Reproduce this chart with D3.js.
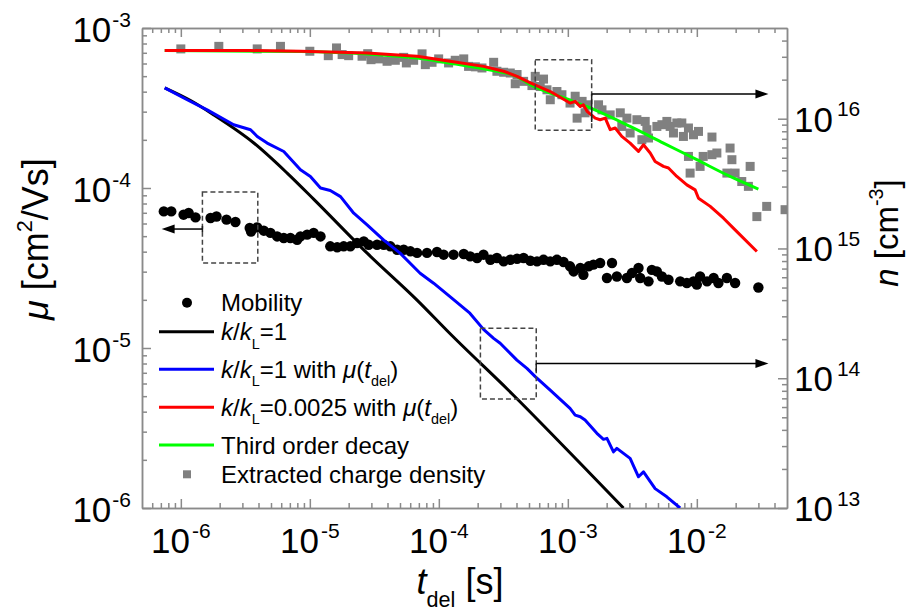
<!DOCTYPE html>
<html>
<head>
<meta charset="utf-8">
<script src="https://cdn.jsdelivr.net/npm/d3@7"></script>
<style>
  body { margin: 0; background: #fff; }
  svg { font-family: 'Liberation Sans', Arial, sans-serif; }
</style>
</head>
<body>
<svg class="chart" width="910" height="612"></svg>
<script>
// mobility (left axis)
const mobT = [7.38e-7, 8.43e-7, 1.05e-6, 1.15e-6, 1.30e-6, 1.70e-6, 1.89e-6, 2.26e-6, 2.65e-6, 3.42e-6,
  3.50e-6, 3.91e-6, 4.40e-6, 4.95e-6, 5.58e-6, 6.28e-6, 7.07e-6, 7.97e-6, 8.46e-6, 9.53e-6,
  1.07e-5, 1.21e-5, 1.44e-5, 1.63e-5, 1.83e-5, 2.06e-5, 2.32e-5, 2.62e-5, 2.86e-5, 3.32e-5,
  3.74e-5, 4.21e-5, 4.75e-5, 5.34e-5, 6.02e-5, 6.78e-5, 8.10e-5, 9.68e-5, 1.09e-4, 1.30e-4,
  1.56e-4, 1.75e-4, 1.98e-4, 2.22e-4, 2.51e-4, 2.82e-4, 3.18e-4, 3.58e-4, 4.04e-4, 4.54e-4,
  5.12e-4, 5.77e-4, 6.48e-4, 7.31e-4, 8.23e-4, 9.27e-4, 1.04e-3, 1.11e-3, 1.25e-3, 1.32e-3,
  1.45e-3, 1.58e-3, 1.78e-3, 2.01e-3, 2.20e-3, 2.40e-3, 2.87e-3, 3.14e-3, 3.53e-3, 3.64e-3,
  4.22e-3, 4.48e-3, 4.90e-3, 5.36e-3, 6.03e-3, 7.43e-3, 8.37e-3, 9.42e-3, 1.00e-2, 1.06e-2,
  1.20e-2, 1.35e-2, 1.47e-2, 1.71e-2, 1.98e-2, 3.00e-2]
const mobMu = [7.14e-5, 7.14e-5, 6.81e-5, 6.98e-5, 6.55e-5, 6.49e-5, 6.64e-5, 6.34e-5, 6.13e-5, 5.62e-5,
  5.35e-5, 5.67e-5, 5.41e-5, 5.24e-5, 4.98e-5, 4.87e-5, 4.87e-5, 4.75e-5, 4.98e-5, 5.11e-5,
  5.24e-5, 4.98e-5, 4.32e-5, 4.26e-5, 4.32e-5, 4.32e-5, 4.53e-5, 4.64e-5, 4.42e-5, 4.42e-5,
  4.42e-5, 4.32e-5, 4.11e-5, 4.11e-5, 4.02e-5, 3.93e-5, 3.93e-5, 3.98e-5, 3.83e-5, 3.83e-5,
  3.87e-5, 3.74e-5, 3.65e-5, 3.83e-5, 3.56e-5, 3.65e-5, 3.48e-5, 3.56e-5, 3.61e-5, 3.65e-5,
  3.51e-5, 3.48e-5, 3.56e-5, 3.48e-5, 3.56e-5, 3.45e-5, 3.24e-5, 3.01e-5, 3.16e-5, 2.87e-5,
  3.24e-5, 3.32e-5, 3.40e-5, 2.74e-5, 3.40e-5, 2.80e-5, 2.74e-5, 2.94e-5, 3.16e-5, 2.74e-5,
  2.61e-5, 3.08e-5, 3.01e-5, 2.80e-5, 2.67e-5, 2.61e-5, 2.55e-5, 2.61e-5, 2.49e-5, 2.80e-5,
  2.61e-5, 2.74e-5, 2.55e-5, 2.74e-5, 2.55e-5, 2.39e-5]

// extracted charge density (right axis)
const densT = [1.0e-6, 1.97e-6, 3.91e-6, 5.92e-6, 1.0e-5, 1.39e-5, 1.61e-5, 1.78e-5, 2.00e-5, 2.54e-5,
  2.81e-5, 2.98e-5, 3.42e-5, 3.97e-5, 4.60e-5, 5.34e-5, 5.60e-5, 6.38e-5, 7.41e-5, 7.86e-5,
  8.86e-5, 9.97e-5, 1.19e-4, 1.34e-4, 1.56e-4, 1.70e-4, 1.92e-4, 2.16e-4, 2.66e-4, 2.82e-4,
  3.18e-4, 3.58e-4, 3.91e-4, 4.04e-4, 4.54e-4, 5.27e-4, 5.59e-4, 6.11e-4, 6.48e-4, 6.89e-4,
  7.31e-4, 8.23e-4, 9.00e-4, 1.04e-3, 1.14e-3, 1.18e-3, 1.29e-3, 1.36e-3, 1.41e-3, 1.73e-3,
  1.84e-3, 2.13e-3, 2.55e-3, 2.62e-3, 2.87e-3, 3.04e-3, 3.43e-3, 3.75e-3, 3.98e-3, 4.10e-3,
  4.22e-3, 4.90e-3, 5.36e-3, 5.86e-3, 6.21e-3, 6.59e-3, 7.00e-3, 7.65e-3, 7.87e-3, 8.61e-3,
  9.42e-3, 1.03e-2, 8.61e-3, 8.87e-3, 1.06e-2, 1.12e-2, 1.31e-2, 1.31e-2, 1.43e-2, 1.71e-2,
  1.81e-2, 1.87e-2, 1.98e-2, 2.23e-2, 2.51e-2, 2.59e-2, 2.92e-2, 3.48e-2, 4.83e-2]
const densN = [3.45e16, 3.61e16, 3.45e16, 3.61e16, 3.31e16, 3.06e16, 3.51e16, 3.12e16, 3.06e16, 3.03e16,
  3.17e16, 2.85e16, 2.89e16, 2.77e16, 2.82e16, 2.97e16, 2.69e16, 2.82e16, 3.16e16, 2.61e16,
  2.72e16, 2.89e16, 2.69e16, 2.82e16, 2.89e16, 2.53e16, 2.51e16, 2.46e16, 2.72e16, 2.32e16,
  2.28e16, 2.25e16, 1.86e16, 2.19e16, 1.94e16, 1.80e16, 2.12e16, 1.77e16, 2.02e16, 1.67e16,
  1.40e16, 1.62e16, 1.53e16, 1.32e16, 1.49e16, 1.01e16, 1.36e16, 1.11e16, 1.28e16, 1.28e16,
  1.17e16, 1.07e16, 1.11e16, 8.72e15, 1.01e16, 7.76e15, 9.82e15, 6.89e15, 9.53e15, 8.23e15,
  7.10e15, 8.72e15, 8.99e15, 9.53e15, 8.72e15, 7.76e15, 9.27e15, 9.27e15, 7.30e15, 8.48e15,
  7.52e15, 7.98e15, 5.12e15, 3.81e15, 4.29e15, 5.12e15, 5.28e15, 7.22e15, 5.44e15, 3.81e15,
  5.94e15, 4.83e15, 3.81e15, 3.28e15, 3.01e15, 4.29e15, 1.76e15, 2.11e15, 1.99e15]

// k/kL = 1
const k1T = [7.5e-7, 1.19e-6, 1.80e-6, 3.68e-6, 6.67e-6, 1.07e-5, 2.78e-5, 6.78e-5, 1.23e-4, 3.79e-4, 1.33e-3, 2.70e-3]
const k1N = [1.73e16, 1.38e16, 1.07e16, 6.5e15, 3.81e15, 2.40e15, 9.2e14, 4.0e14, 2.19e14, 7.4e13, 2.07e13, 1.0e13]

// k/kL = 1 with mu(t_del)
const k1MuT = [7.5e-7, 1.12e-6, 1.60e-6, 2.57e-6, 3.47e-6, 3.91e-6, 4.67e-6, 6.28e-6, 8.46e-6, 1.01e-5,
  1.21e-5, 1.44e-5, 1.73e-5, 2.19e-5, 2.78e-5, 3.74e-5, 5.01e-5, 7.16e-5, 9.11e-5, 1.22e-4,
  1.74e-4, 2.22e-4, 2.66e-4, 2.99e-4, 4.03e-4, 4.82e-4, 5.59e-4, 7.30e-4, 1.04e-3, 1.14e-3,
  1.25e-3, 1.36e-3, 1.68e-3, 1.89e-3, 2.01e-3, 2.26e-3, 2.40e-3, 3.04e-3, 3.53e-3, 3.86e-3,
  4.75e-3, 5.85e-3, 7.42e-3]
const k1MuN = [1.73e16, 1.40e16, 1.17e16, 8.99e15, 8.22e15, 7.30e15, 6.49e15, 5.59e15, 4.04e15, 3.59e15,
  2.92e15, 2.80e15, 2.51e15, 1.87e15, 1.52e15, 1.16e15, 9.2e14, 6.44e14, 5.40e14, 4.26e14,
  3.17e14, 2.38e14, 2.03e14, 1.86e14, 1.38e14, 1.19e14, 1.03e14, 8.11e13, 5.86e13, 5.20e13,
  5.05e13, 4.76e13, 3.76e13, 3.38e13, 3.44e13, 2.71e13, 2.88e13, 2.41e13, 1.74e13, 1.90e13,
  1.41e13, 1.22e13, 1.0e13]

// k/kL = 0.0025 with mu(t_del)
const k0025T = [7.5e-7, 3.47e-6, 8.46e-6, 2.78e-5, 6.78e-5, 1.22e-4, 2.22e-4, 3.18e-4, 4.04e-4, 5.12e-4,
  7.31e-4, 1.04e-3, 1.14e-3, 1.25e-3, 1.32e-3, 1.41e-3, 1.63e-3, 1.78e-3, 1.95e-3, 2.13e-3,
  2.33e-3, 2.62e-3, 3.04e-3, 3.53e-3, 3.86e-3, 4.35e-3, 4.75e-3, 5.51e-3, 6.03e-3, 7.00e-3,
  8.37e-3, 9.70e-3, 1.03e-2, 1.27e-2, 1.61e-2, 1.98e-2, 2.92e-2]
const k0025N = [3.35e16, 3.35e16, 3.31e16, 3.21e16, 3.03e16, 2.77e16, 2.53e16, 2.32e16, 2.12e16, 1.89e16,
  1.62e16, 1.32e16, 1.36e16, 1.24e16, 1.28e16, 1.14e16, 1.01e16, 9.82e15, 1.01e16, 8.23e15,
  8.48e15, 7.30e15, 6.49e15, 5.60e15, 6.30e15, 5.44e15, 4.68e15, 4.29e15, 4.17e15, 3.59e15,
  3.09e15, 2.83e15, 2.44e15, 2.11e15, 1.71e15, 1.39e15, 9.47e14]

// third order decay
const thirdT = [7.5e-7, 8.46e-6, 2.78e-5, 6.78e-5, 1.22e-4, 2.22e-4, 4.04e-4, 5.12e-4, 9.26e-4, 1.49e-3,
  3.04e-3, 5.51e-3, 1.0e-2, 1.81e-2, 3.0e-2]
const thirdN = [3.35e16, 3.29e16, 3.15e16, 2.93e16, 2.68e16, 2.42e16, 2.11e16, 1.83e16, 1.45e16, 1.21e16,
  8.72e15, 6.49e15, 4.83e15, 3.59e15, 2.87e15]

// tick labels
const xTicks = [1e-6, 1e-5, 1e-4, 1e-3, 1e-2]
const xTickExp = ['-6', '-5', '-4', '-3', '-2']
const yLeftTicks = [1e-6, 1e-5, 1e-4, 1e-3]
const yLeftTickExp = ['-6', '-5', '-4', '-3']
const yRightTicks = [1e13, 1e14, 1e15, 1e16]
const yRightTickExp = ['13', '14', '15', '16']

const svg = d3.select('.chart'),
  margin = { top: 28, right: 123, bottom: 104, left: 142 },
  width = 910 - margin.left - margin.right,
  height = 612 - margin.top - margin.bottom

const x = d3.scaleLog().domain([5e-7, 0.05]).range([0, width]),
  yL = d3.scaleLog().domain([1e-6, 1e-3]).range([height, 0]),
  yR = d3.scaleLog().domain([1e13, 5e16]).range([height, 0])

const minorTicks = (lo, hi) => {
  const out = []
  for (let e = Math.floor(Math.log10(lo)); e <= Math.ceil(Math.log10(hi)); e++) {
    for (let m = 2; m <= 9; m++) {
      const v = m * Math.pow(10, e)
      if (v > lo * 1.0001 && v < hi * 0.9999) out.push(v)
    }
  }
  return out
}

// text with italic / sub / sup parts
const rich = (sel, parts, size) => {
  let shift = 0
  parts.forEach(p => {
    const target = p.sup ? -0.44 * size : p.sub ? 0.35 * size : 0
    sel.append('tspan')
      .attr('dy', target - shift)
      .attr('dx', p.dx || 0)
      .style('font-size', (p.sup || p.sub ? 0.6 * size : size) + 'px')
      .style('font-style', p.it ? 'italic' : 'normal')
      .text(p.t)
    shift = target
  })
}

const g = svg.append('g')
  .attr('transform', 'translate(' + margin.left + ',' + margin.top + ')')

g.append('clipPath').attr('id', 'plot-clip')
  .append('rect').attr('width', width).attr('height', height)

// axes (inward ticks, gray frame)
const axisColor = '#8a8a8a'
const addAxis = (axis, tx, ty, major, minor) => {
  const a = g.append('g').attr('transform', 'translate(' + tx + ',' + ty + ')')
  a.call(axis.tickValues(major).tickSize(-9).tickSizeOuter(0).tickFormat(''))
  a.append('g').call(axis.tickValues(minor).tickSize(-5).tickSizeOuter(0).tickFormat(''))
  a.selectAll('path, line').attr('stroke', axisColor).attr('stroke-width', 1.5)
}
addAxis(d3.axisBottom(x), 0, height, xTicks, minorTicks(5e-7, 0.05))
addAxis(d3.axisTop(x), 0, 0, xTicks, minorTicks(5e-7, 0.05))
addAxis(d3.axisLeft(yL), 0, 0, yLeftTicks, minorTicks(1e-6, 1e-3))
addAxis(d3.axisRight(yR), width, 0, yRightTicks, minorTicks(1e13, 5e16))

// tick labels
xTicks.forEach((v, i) => {
  g.append('text').attr('x', x(v)).attr('y', height + 45).attr('text-anchor', 'middle')
    .call(rich, [{ t: '10' }, { t: xTickExp[i], sup: true, dx: 2 }], 35)
})
yLeftTicks.forEach((v, i) => {
  g.append('text').attr('x', -11).attr('y', yL(v) + 14).attr('text-anchor', 'end')
    .call(rich, [{ t: '10' }, { t: yLeftTickExp[i], sup: true, dx: 1 }], 35)
})
yRightTicks.forEach((v, i) => {
  g.append('text').attr('x', width + 7).attr('y', yR(v) + 13)
    .call(rich, [{ t: '10' }, { t: yRightTickExp[i], sup: true, dx: 4 }], 35)
})

// axis titles
svg.append('text').attr('transform', 'translate(48,239) rotate(-90)').attr('text-anchor', 'middle')
  .call(rich, [{ t: '\u03bc', it: true }, { t: ' [cm' }, { t: '2', sup: true }, { t: '/Vs]' }], 36)
svg.append('text').attr('transform', 'translate(898,233) rotate(-90)').attr('text-anchor', 'middle')
  .call(rich, [{ t: 'n', it: true }, { t: ' [cm' }, { t: '-3', sup: true }, { t: ']' }], 33)
svg.append('text').attr('x', 460).attr('y', 594).attr('text-anchor', 'middle')
  .call(rich, [{ t: 't', it: true }, { t: 'del', sub: true }, { t: ' [s]' }], 36)

// data
const plot = g.append('g').attr('clip-path', 'url(#plot-clip)')
const zip = (a, b) => a.map((d, i) => [d, b[i]])

plot.selectAll('.mob').data(zip(mobT, mobMu)).enter().append('circle')
  .attr('class', 'mob')
  .attr('cx', d => x(d[0])).attr('cy', d => yL(d[1])).attr('r', 5.2)
  .attr('fill', '#000')

plot.selectAll('.dens').data(zip(densT, densN)).enter().append('rect')
  .attr('class', 'dens')
  .attr('x', d => x(d[0]) - 4.5).attr('y', d => yR(d[1]) - 4.5)
  .attr('width', 9).attr('height', 9)
  .attr('fill', '#808080')

const lineR = curve => d3.line().x(d => x(d[0])).y(d => yR(d[1])).curve(curve)
const series = [
  { data: zip(k1T, k1N), color: '#000000', curve: d3.curveMonotoneX },
  { data: zip(k1MuT, k1MuN), color: '#0000ff', curve: d3.curveLinear },
  { data: zip(thirdT, thirdN), color: '#00ff00', curve: d3.curveMonotoneX },
  { data: zip(k0025T, k0025N), color: '#ff0000', curve: d3.curveLinear }
]
series.forEach(s => {
  plot.append('path').datum(s.data)
    .attr('d', lineR(s.curve))
    .attr('fill', 'none').attr('stroke', s.color).attr('stroke-width', 3)
    .attr('stroke-linejoin', 'round')
})

// dashed boxes with arrows pointing to their axis
const boxes = [
  { t: [1.47e-6, 3.95e-6], v: [3.40e-5, 9.44e-5], y: yL, at: 5.54e-5, tip: 7.1e-7, stub: 3 },
  { t: [5.59e-4, 1.53e-3], v: [8.15e15, 2.85e16], y: yR, at: 1.55e16, tip: 3.59e-2, stub: 28 },
  { t: [2.10e-4, 5.69e-4], v: [6.91e13, 2.43e14], y: yR, at: 1.30e14, tip: 3.59e-2, stub: 8 }
]
boxes.forEach(b => {
  const x0 = x(b.t[0]), x1 = x(b.t[1]), y0 = b.y(b.v[1]), y1 = b.y(b.v[0])
  g.append('rect').attr('x', x0).attr('y', y0).attr('width', x1 - x0).attr('height', y1 - y0)
    .attr('fill', 'none').attr('stroke', '#444').attr('stroke-width', 1.5)
    .attr('stroke-dasharray', '5,3')
  const ay = b.y(b.at), tx = x(b.tip)
  const sx = tx < x0 ? x0 : x1
  const dir = tx < sx ? -1 : 1
  g.append('line').attr('x1', sx).attr('x2', sx).attr('y1', ay - (dir < 0 ? b.stub : 0)).attr('y2', ay + b.stub)
    .attr('stroke', '#222').attr('stroke-width', 1.5)
  g.append('line').attr('x1', sx).attr('x2', tx - dir * 10).attr('y1', ay).attr('y2', ay)
    .attr('stroke', '#000').attr('stroke-width', 1.5)
  g.append('path')
    .attr('d', 'M' + tx + ',' + ay + 'L' + (tx - dir * 13) + ',' + (ay - 4.5) + 'L' + (tx - dir * 13) + ',' + (ay + 4.5) + 'Z')
    .attr('fill', '#000')
})

// legend
const legendRows = [
  { y: 302.7, kind: 'dot', color: '#000', parts: [{ t: 'Mobility' }] },
  { y: 331.7, kind: 'line', color: '#000000', parts: [{ t: 'k', it: true }, { t: '/' }, { t: 'k', it: true }, { t: 'L', sub: true }, { t: '=1' }] },
  { y: 369.3, kind: 'line', color: '#0000ff', parts: [{ t: 'k', it: true }, { t: '/' }, { t: 'k', it: true }, { t: 'L', sub: true }, { t: '=1 with ' }, { t: '\u03bc', it: true }, { t: '(' }, { t: 't', it: true }, { t: 'del', sub: true }, { t: ')' }] },
  { y: 407.3, kind: 'line', color: '#ff0000', parts: [{ t: 'k', it: true }, { t: '/' }, { t: 'k', it: true }, { t: 'L', sub: true }, { t: '=0.0025 with ' }, { t: '\u03bc', it: true }, { t: '(' }, { t: 't', it: true }, { t: 'del', sub: true }, { t: ')' }] },
  { y: 445, kind: 'line', color: '#00ff00', parts: [{ t: 'Third order decay' }] },
  { y: 474.3, kind: 'square', color: '#808080', parts: [{ t: 'Extracted charge density' }] }
]
const legend = svg.append('g')
legendRows.forEach(r => {
  if (r.kind === 'dot') {
    legend.append('circle').attr('cx', 187).attr('cy', r.y).attr('r', 5).attr('fill', r.color)
  } else if (r.kind === 'square') {
    legend.append('rect').attr('x', 183).attr('y', r.y - 4).attr('width', 8).attr('height', 8).attr('fill', r.color)
  } else {
    legend.append('line').attr('x1', 159).attr('x2', 214).attr('y1', r.y).attr('y2', r.y)
      .attr('stroke', r.color).attr('stroke-width', 3)
  }
  legend.append('text').attr('x', 221).attr('y', r.y + 8.7).call(rich, r.parts, 24)
})
</script>
</body>
</html>
